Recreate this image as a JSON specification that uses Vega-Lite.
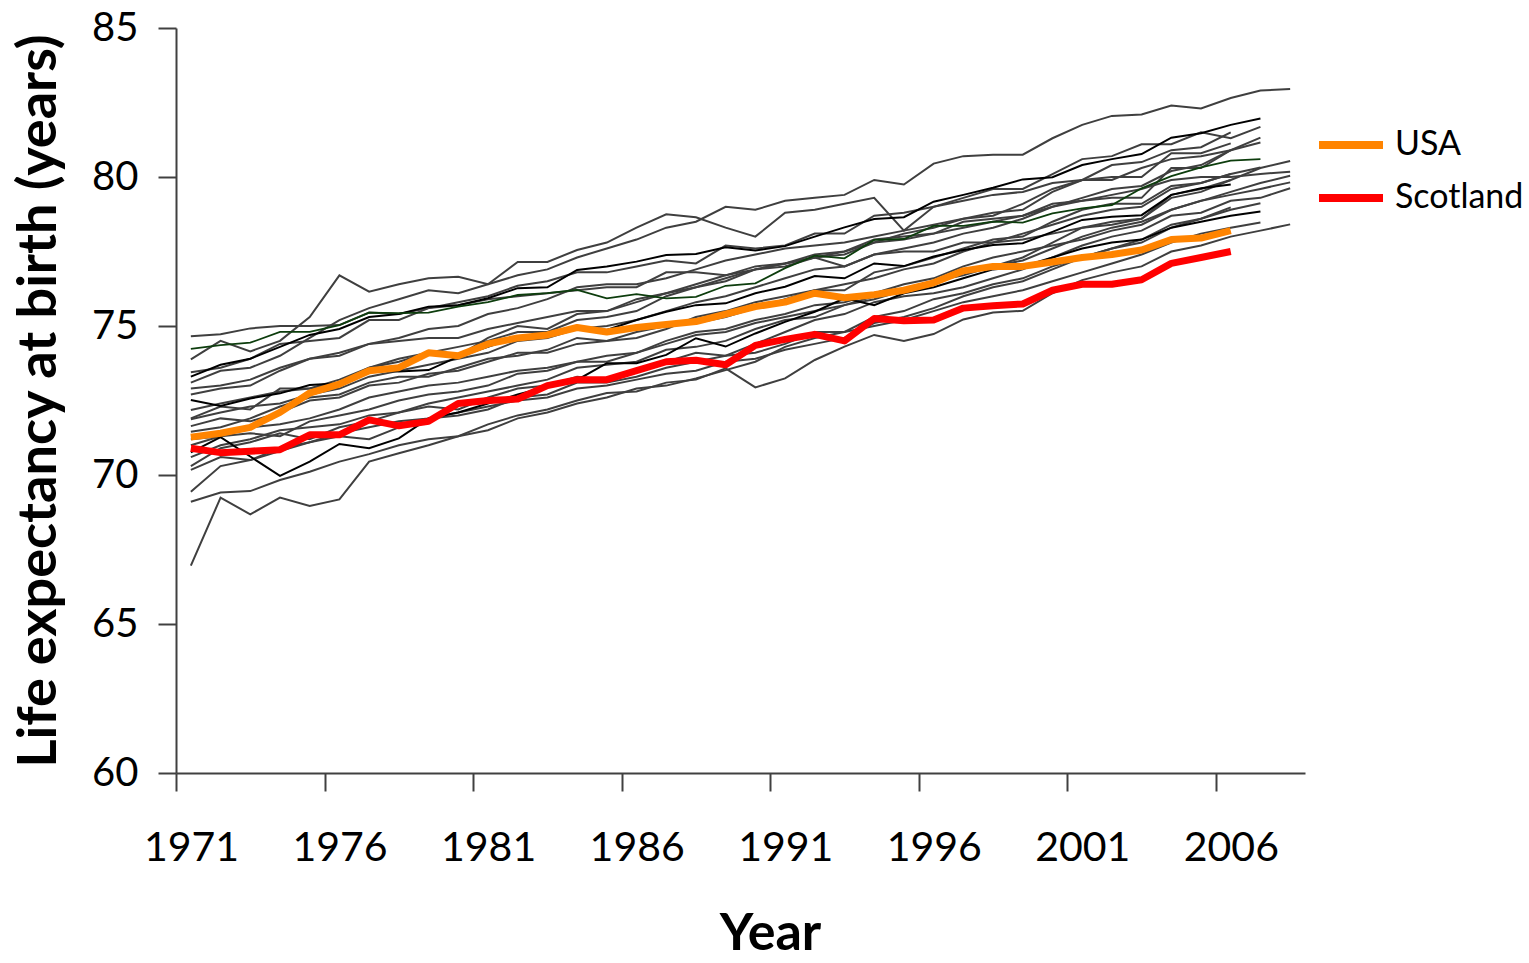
{
  "$schema": "https://vega.github.io/schema/vega-lite/v6.json",
  "width": 1129,
  "height": 745,
  "autosize": "none",
  "padding": {"left": 176, "top": 28, "right": 224, "bottom": 190},
  "background": "white",
  "data": {
    "values": [
      {"c":"c01","y":1971,"v":73.1},{"c":"c01","y":1972,"v":73.5},{"c":"c01","y":1973,"v":73.6},{"c":"c01","y":1974,"v":74.0},{"c":"c01","y":1975,"v":74.6},
      {"c":"c01","y":1976,"v":75.2},{"c":"c01","y":1977,"v":75.6},{"c":"c01","y":1978,"v":75.9},{"c":"c01","y":1979,"v":76.2},{"c":"c01","y":1980,"v":76.1},
      {"c":"c01","y":1981,"v":76.4},{"c":"c01","y":1982,"v":76.7},{"c":"c01","y":1983,"v":76.9},{"c":"c01","y":1984,"v":77.3},{"c":"c01","y":1985,"v":77.6},
      {"c":"c01","y":1986,"v":77.9},{"c":"c01","y":1987,"v":78.3},{"c":"c01","y":1988,"v":78.5},{"c":"c01","y":1989,"v":79.0},{"c":"c01","y":1990,"v":78.9},
      {"c":"c01","y":1991,"v":79.2},{"c":"c01","y":1992,"v":79.3},{"c":"c01","y":1993,"v":79.4},{"c":"c01","y":1994,"v":79.9},{"c":"c01","y":1995,"v":79.75},
      {"c":"c01","y":1996,"v":80.45},{"c":"c01","y":1997,"v":80.7},{"c":"c01","y":1998,"v":80.75},{"c":"c01","y":1999,"v":80.75},{"c":"c01","y":2000,"v":81.3},
      {"c":"c01","y":2001,"v":81.75},{"c":"c01","y":2002,"v":82.05},{"c":"c01","y":2003,"v":82.1},{"c":"c01","y":2004,"v":82.4},{"c":"c01","y":2005,"v":82.3},
      {"c":"c01","y":2006,"v":82.65},{"c":"c01","y":2007,"v":82.9},{"c":"c01","y":2008,"v":82.95},

      {"c":"c02","y":1971,"v":73.88},{"c":"c02","y":1972,"v":74.5},{"c":"c02","y":1973,"v":74.15},{"c":"c02","y":1974,"v":74.5},{"c":"c02","y":1975,"v":75.3},
      {"c":"c02","y":1976,"v":76.7},{"c":"c02","y":1977,"v":76.15},{"c":"c02","y":1978,"v":76.4},{"c":"c02","y":1979,"v":76.6},{"c":"c02","y":1980,"v":76.65},
      {"c":"c02","y":1981,"v":76.4},{"c":"c02","y":1982,"v":77.15},{"c":"c02","y":1983,"v":77.15},{"c":"c02","y":1984,"v":77.55},{"c":"c02","y":1985,"v":77.8},
      {"c":"c02","y":1986,"v":78.3},{"c":"c02","y":1987,"v":78.75},{"c":"c02","y":1988,"v":78.65},{"c":"c02","y":1989,"v":78.3},{"c":"c02","y":1990,"v":78.0},
      {"c":"c02","y":1991,"v":78.8},{"c":"c02","y":1992,"v":78.9},{"c":"c02","y":1993,"v":79.1},{"c":"c02","y":1994,"v":79.3},{"c":"c02","y":1995,"v":78.2},
      {"c":"c02","y":1996,"v":79.0},{"c":"c02","y":1997,"v":79.3},{"c":"c02","y":1998,"v":79.6},{"c":"c02","y":1999,"v":79.6},{"c":"c02","y":2000,"v":80.1},
      {"c":"c02","y":2001,"v":80.6},{"c":"c02","y":2002,"v":80.7},{"c":"c02","y":2003,"v":81.1},{"c":"c02","y":2004,"v":81.1},{"c":"c02","y":2005,"v":81.5},
      {"c":"c02","y":2006,"v":81.3},{"c":"c02","y":2007,"v":81.68},

      {"c":"c03","y":1971,"v":74.66},{"c":"c03","y":1972,"v":74.72},{"c":"c03","y":1973,"v":74.92},{"c":"c03","y":1974,"v":75.0},{"c":"c03","y":1975,"v":75.0},
      {"c":"c03","y":1976,"v":75.03},{"c":"c03","y":1977,"v":75.45},{"c":"c03","y":1978,"v":75.4},{"c":"c03","y":1979,"v":75.6},{"c":"c03","y":1980,"v":75.8},
      {"c":"c03","y":1981,"v":76.0},{"c":"c03","y":1982,"v":76.35},{"c":"c03","y":1983,"v":76.5},{"c":"c03","y":1984,"v":76.8},{"c":"c03","y":1985,"v":76.8},
      {"c":"c03","y":1986,"v":77.0},{"c":"c03","y":1987,"v":77.2},{"c":"c03","y":1988,"v":77.1},{"c":"c03","y":1989,"v":77.7},{"c":"c03","y":1990,"v":77.6},
      {"c":"c03","y":1991,"v":77.7},{"c":"c03","y":1992,"v":78.1},{"c":"c03","y":1993,"v":78.1},{"c":"c03","y":1994,"v":78.7},{"c":"c03","y":1995,"v":78.8},
      {"c":"c03","y":1996,"v":79.0},{"c":"c03","y":1997,"v":79.2},{"c":"c03","y":1998,"v":79.4},{"c":"c03","y":1999,"v":79.5},{"c":"c03","y":2000,"v":79.8},
      {"c":"c03","y":2001,"v":79.9},{"c":"c03","y":2002,"v":79.9},{"c":"c03","y":2003,"v":80.3},{"c":"c03","y":2004,"v":80.6},{"c":"c03","y":2005,"v":80.7},
      {"c":"c03","y":2006,"v":80.9},{"c":"c03","y":2007,"v":81.32},

      {"c":"c04","y":1971,"v":73.3},{"c":"c04","y":1972,"v":73.7},{"c":"c04","y":1973,"v":73.9},{"c":"c04","y":1974,"v":74.3},{"c":"c04","y":1975,"v":74.7},
      {"c":"c04","y":1976,"v":74.9},{"c":"c04","y":1977,"v":75.3},{"c":"c04","y":1978,"v":75.4},{"c":"c04","y":1979,"v":75.65},{"c":"c04","y":1980,"v":75.7},
      {"c":"c04","y":1981,"v":75.93},{"c":"c04","y":1982,"v":76.27},{"c":"c04","y":1983,"v":76.3},{"c":"c04","y":1984,"v":76.88},{"c":"c04","y":1985,"v":77.0},
      {"c":"c04","y":1986,"v":77.16},{"c":"c04","y":1987,"v":77.38},{"c":"c04","y":1988,"v":77.42},{"c":"c04","y":1989,"v":77.64},{"c":"c04","y":1990,"v":77.53},
      {"c":"c04","y":1991,"v":77.68},{"c":"c04","y":1992,"v":78.0},{"c":"c04","y":1993,"v":78.31},{"c":"c04","y":1994,"v":78.59},{"c":"c04","y":1995,"v":78.65},
      {"c":"c04","y":1996,"v":79.17},{"c":"c04","y":1997,"v":79.4},{"c":"c04","y":1998,"v":79.64},{"c":"c04","y":1999,"v":79.92},{"c":"c04","y":2000,"v":79.99},
      {"c":"c04","y":2001,"v":80.4},{"c":"c04","y":2002,"v":80.6},{"c":"c04","y":2003,"v":80.77},{"c":"c04","y":2004,"v":81.32},{"c":"c04","y":2005,"v":81.47},
      {"c":"c04","y":2006,"v":81.75},{"c":"c04","y":2007,"v":81.96},

      {"c":"c05","y":1971,"v":73.45},{"c":"c05","y":1972,"v":73.6},{"c":"c05","y":1973,"v":73.9},{"c":"c05","y":1974,"v":74.4},{"c":"c05","y":1975,"v":74.5},
      {"c":"c05","y":1976,"v":74.6},{"c":"c05","y":1977,"v":75.2},{"c":"c05","y":1978,"v":75.2},{"c":"c05","y":1979,"v":75.6},{"c":"c05","y":1980,"v":75.7},
      {"c":"c05","y":1981,"v":75.9},{"c":"c05","y":1982,"v":76.0},{"c":"c05","y":1983,"v":76.1},{"c":"c05","y":1984,"v":76.2},{"c":"c05","y":1985,"v":76.3},
      {"c":"c05","y":1986,"v":76.3},{"c":"c05","y":1987,"v":76.8},{"c":"c05","y":1988,"v":76.8},{"c":"c05","y":1989,"v":76.7},{"c":"c05","y":1990,"v":77.0},
      {"c":"c05","y":1991,"v":77.1},{"c":"c05","y":1992,"v":77.3},{"c":"c05","y":1993,"v":77.0},{"c":"c05","y":1994,"v":77.4},{"c":"c05","y":1995,"v":77.5},
      {"c":"c05","y":1996,"v":77.5},{"c":"c05","y":1997,"v":77.8},{"c":"c05","y":1998,"v":77.8},{"c":"c05","y":1999,"v":77.9},{"c":"c05","y":2000,"v":78.1},
      {"c":"c05","y":2001,"v":78.3},{"c":"c05","y":2002,"v":78.4},{"c":"c05","y":2003,"v":78.6},{"c":"c05","y":2004,"v":79.4},{"c":"c05","y":2005,"v":79.6},
      {"c":"c05","y":2006,"v":79.9},{"c":"c05","y":2007,"v":80.3},{"c":"c05","y":2008,"v":80.54},

      {"c":"c06","y":1971,"v":72.9},{"c":"c06","y":1972,"v":73.0},{"c":"c06","y":1973,"v":73.2},{"c":"c06","y":1974,"v":73.6},{"c":"c06","y":1975,"v":73.9},
      {"c":"c06","y":1976,"v":74.0},{"c":"c06","y":1977,"v":74.4},{"c":"c06","y":1978,"v":74.5},{"c":"c06","y":1979,"v":74.6},{"c":"c06","y":1980,"v":74.6},
      {"c":"c06","y":1981,"v":74.9},{"c":"c06","y":1982,"v":75.1},{"c":"c06","y":1983,"v":75.3},{"c":"c06","y":1984,"v":75.5},{"c":"c06","y":1985,"v":75.5},
      {"c":"c06","y":1986,"v":75.9},{"c":"c06","y":1987,"v":76.1},{"c":"c06","y":1988,"v":76.3},{"c":"c06","y":1989,"v":76.6},{"c":"c06","y":1990,"v":76.9},
      {"c":"c06","y":1991,"v":77.1},{"c":"c06","y":1992,"v":77.4},{"c":"c06","y":1993,"v":77.5},{"c":"c06","y":1994,"v":77.9},{"c":"c06","y":1995,"v":78.0},
      {"c":"c06","y":1996,"v":78.1},{"c":"c06","y":1997,"v":78.3},{"c":"c06","y":1998,"v":78.5},{"c":"c06","y":1999,"v":78.7},{"c":"c06","y":2000,"v":79.1},
      {"c":"c06","y":2001,"v":79.2},{"c":"c06","y":2002,"v":79.4},{"c":"c06","y":2003,"v":79.6},{"c":"c06","y":2004,"v":79.9},{"c":"c06","y":2005,"v":80.0},
      {"c":"c06","y":2006,"v":80.0},{"c":"c06","y":2007,"v":80.1},{"c":"c06","y":2008,"v":80.18},

      {"c":"c07","y":1971,"v":72.18},{"c":"c07","y":1972,"v":72.4},{"c":"c07","y":1973,"v":72.6},{"c":"c07","y":1974,"v":72.8},{"c":"c07","y":1975,"v":72.9},
      {"c":"c07","y":1976,"v":73.1},{"c":"c07","y":1977,"v":73.6},{"c":"c07","y":1978,"v":73.8},{"c":"c07","y":1979,"v":74.1},{"c":"c07","y":1980,"v":74.3},
      {"c":"c07","y":1981,"v":74.5},{"c":"c07","y":1982,"v":74.8},{"c":"c07","y":1983,"v":74.8},{"c":"c07","y":1984,"v":75.2},{"c":"c07","y":1985,"v":75.3},
      {"c":"c07","y":1986,"v":75.5},{"c":"c07","y":1987,"v":76.0},{"c":"c07","y":1988,"v":76.3},{"c":"c07","y":1989,"v":76.5},{"c":"c07","y":1990,"v":76.9},
      {"c":"c07","y":1991,"v":77.1},{"c":"c07","y":1992,"v":77.3},{"c":"c07","y":1993,"v":77.4},{"c":"c07","y":1994,"v":77.8},{"c":"c07","y":1995,"v":77.9},
      {"c":"c07","y":1996,"v":78.1},{"c":"c07","y":1997,"v":78.5},{"c":"c07","y":1998,"v":78.6},{"c":"c07","y":1999,"v":78.7},{"c":"c07","y":2000,"v":79.0},
      {"c":"c07","y":2001,"v":79.2},{"c":"c07","y":2002,"v":79.3},{"c":"c07","y":2003,"v":79.3},{"c":"c07","y":2004,"v":80.3},{"c":"c07","y":2005,"v":80.3},
      {"c":"c07","y":2006,"v":80.9},{"c":"c07","y":2007,"v":81.16},

      {"c":"c08","y":1971,"v":71.9},{"c":"c08","y":1972,"v":72.3},{"c":"c08","y":1973,"v":72.2},{"c":"c08","y":1974,"v":72.9},{"c":"c08","y":1975,"v":72.9},
      {"c":"c08","y":1976,"v":73.2},{"c":"c08","y":1977,"v":73.6},{"c":"c08","y":1978,"v":73.9},{"c":"c08","y":1979,"v":74.1},{"c":"c08","y":1980,"v":74.0},
      {"c":"c08","y":1981,"v":74.6},{"c":"c08","y":1982,"v":75.0},{"c":"c08","y":1983,"v":74.9},{"c":"c08","y":1984,"v":75.4},{"c":"c08","y":1985,"v":75.5},
      {"c":"c08","y":1986,"v":75.8},{"c":"c08","y":1987,"v":76.1},{"c":"c08","y":1988,"v":76.4},{"c":"c08","y":1989,"v":76.7},{"c":"c08","y":1990,"v":76.9},
      {"c":"c08","y":1991,"v":77.0},{"c":"c08","y":1992,"v":77.3},{"c":"c08","y":1993,"v":77.5},{"c":"c08","y":1994,"v":77.8},{"c":"c08","y":1995,"v":78.1},
      {"c":"c08","y":1996,"v":78.3},{"c":"c08","y":1997,"v":78.6},{"c":"c08","y":1998,"v":78.7},{"c":"c08","y":1999,"v":79.1},{"c":"c08","y":2000,"v":79.6},
      {"c":"c08","y":2001,"v":79.9},{"c":"c08","y":2002,"v":80.0},{"c":"c08","y":2003,"v":80.0},{"c":"c08","y":2004,"v":80.8},{"c":"c08","y":2005,"v":80.8},
      {"c":"c08","y":2006,"v":81.13},

      {"c":"c09","y":1971,"v":72.7},{"c":"c09","y":1972,"v":72.9},{"c":"c09","y":1973,"v":73.0},{"c":"c09","y":1974,"v":73.5},{"c":"c09","y":1975,"v":73.9},
      {"c":"c09","y":1976,"v":74.1},{"c":"c09","y":1977,"v":74.4},{"c":"c09","y":1978,"v":74.6},{"c":"c09","y":1979,"v":74.9},{"c":"c09","y":1980,"v":75.0},
      {"c":"c09","y":1981,"v":75.4},{"c":"c09","y":1982,"v":75.6},{"c":"c09","y":1983,"v":75.9},{"c":"c09","y":1984,"v":76.3},{"c":"c09","y":1985,"v":76.4},
      {"c":"c09","y":1986,"v":76.4},{"c":"c09","y":1987,"v":76.6},{"c":"c09","y":1988,"v":76.9},{"c":"c09","y":1989,"v":77.2},{"c":"c09","y":1990,"v":77.4},
      {"c":"c09","y":1991,"v":77.6},{"c":"c09","y":1992,"v":77.7},{"c":"c09","y":1993,"v":77.8},{"c":"c09","y":1994,"v":78.0},{"c":"c09","y":1995,"v":78.2},
      {"c":"c09","y":1996,"v":78.4},{"c":"c09","y":1997,"v":78.6},{"c":"c09","y":1998,"v":78.8},{"c":"c09","y":1999,"v":78.9},{"c":"c09","y":2000,"v":79.5},
      {"c":"c09","y":2001,"v":79.9},{"c":"c09","y":2002,"v":80.4},{"c":"c09","y":2003,"v":80.5},{"c":"c09","y":2004,"v":80.9},{"c":"c09","y":2005,"v":81.0},
      {"c":"c09","y":2006,"v":81.5},

      {"c":"c10","y":1971,"v":72.52},{"c":"c10","y":1972,"v":72.32},{"c":"c10","y":1973,"v":72.57},{"c":"c10","y":1974,"v":72.74},{"c":"c10","y":1975,"v":73.02},
      {"c":"c10","y":1976,"v":73.08},{"c":"c10","y":1977,"v":73.52},{"c":"c10","y":1978,"v":73.47},{"c":"c10","y":1979,"v":73.52},{"c":"c10","y":1980,"v":73.97},
      {"c":"c10","y":1981,"v":74.3},{"c":"c10","y":1982,"v":74.64},{"c":"c10","y":1983,"v":74.75},{"c":"c10","y":1984,"v":74.98},{"c":"c10","y":1985,"v":74.87},
      {"c":"c10","y":1986,"v":75.2},{"c":"c10","y":1987,"v":75.48},{"c":"c10","y":1988,"v":75.7},{"c":"c10","y":1989,"v":75.76},{"c":"c10","y":1990,"v":76.1},
      {"c":"c10","y":1991,"v":76.32},{"c":"c10","y":1992,"v":76.68},{"c":"c10","y":1993,"v":76.6},{"c":"c10","y":1994,"v":77.1},{"c":"c10","y":1995,"v":77.01},
      {"c":"c10","y":1996,"v":77.33},{"c":"c10","y":1997,"v":77.55},{"c":"c10","y":1998,"v":77.72},{"c":"c10","y":1999,"v":77.78},{"c":"c10","y":2000,"v":78.16},
      {"c":"c10","y":2001,"v":78.56},{"c":"c10","y":2002,"v":78.67},{"c":"c10","y":2003,"v":78.72},{"c":"c10","y":2004,"v":79.4},{"c":"c10","y":2005,"v":79.62},
      {"c":"c10","y":2006,"v":79.75},

      {"c":"c11","y":1971,"v":70.76},{"c":"c11","y":1972,"v":71.27},{"c":"c11","y":1973,"v":70.62},{"c":"c11","y":1974,"v":69.97},{"c":"c11","y":1975,"v":70.45},
      {"c":"c11","y":1976,"v":71.04},{"c":"c11","y":1977,"v":70.9},{"c":"c11","y":1978,"v":71.23},{"c":"c11","y":1979,"v":71.9},{"c":"c11","y":1980,"v":72.1},
      {"c":"c11","y":1981,"v":72.4},{"c":"c11","y":1982,"v":72.7},{"c":"c11","y":1983,"v":72.96},{"c":"c11","y":1984,"v":73.19},{"c":"c11","y":1985,"v":73.75},
      {"c":"c11","y":1986,"v":73.75},{"c":"c11","y":1987,"v":74.03},{"c":"c11","y":1988,"v":74.59},{"c":"c11","y":1989,"v":74.31},{"c":"c11","y":1990,"v":74.75},
      {"c":"c11","y":1991,"v":75.14},{"c":"c11","y":1992,"v":75.48},{"c":"c11","y":1993,"v":75.93},{"c":"c11","y":1994,"v":75.7},{"c":"c11","y":1995,"v":76.1},
      {"c":"c11","y":1996,"v":76.3},{"c":"c11","y":1997,"v":76.6},{"c":"c11","y":1998,"v":76.9},{"c":"c11","y":1999,"v":77.0},{"c":"c11","y":2000,"v":77.3},
      {"c":"c11","y":2001,"v":77.6},{"c":"c11","y":2002,"v":77.8},{"c":"c11","y":2003,"v":77.9},{"c":"c11","y":2004,"v":78.3},{"c":"c11","y":2005,"v":78.5},
      {"c":"c11","y":2006,"v":78.7},{"c":"c11","y":2007,"v":78.84},

      {"c":"c12","y":1971,"v":71.87},{"c":"c12","y":1972,"v":72.1},{"c":"c12","y":1973,"v":72.3},{"c":"c12","y":1974,"v":72.4},{"c":"c12","y":1975,"v":72.7},
      {"c":"c12","y":1976,"v":72.9},{"c":"c12","y":1977,"v":73.3},{"c":"c12","y":1978,"v":73.5},{"c":"c12","y":1979,"v":73.7},{"c":"c12","y":1980,"v":73.9},
      {"c":"c12","y":1981,"v":74.1},{"c":"c12","y":1982,"v":74.5},{"c":"c12","y":1983,"v":74.6},{"c":"c12","y":1984,"v":74.9},{"c":"c12","y":1985,"v":75.0},
      {"c":"c12","y":1986,"v":75.2},{"c":"c12","y":1987,"v":75.5},{"c":"c12","y":1988,"v":75.8},{"c":"c12","y":1989,"v":76.0},{"c":"c12","y":1990,"v":76.3},
      {"c":"c12","y":1991,"v":76.6},{"c":"c12","y":1992,"v":76.9},{"c":"c12","y":1993,"v":77.0},{"c":"c12","y":1994,"v":77.4},{"c":"c12","y":1995,"v":77.6},
      {"c":"c12","y":1996,"v":77.8},{"c":"c12","y":1997,"v":78.1},{"c":"c12","y":1998,"v":78.3},{"c":"c12","y":1999,"v":78.6},{"c":"c12","y":2000,"v":79.0},
      {"c":"c12","y":2001,"v":79.3},{"c":"c12","y":2002,"v":79.6},{"c":"c12","y":2003,"v":79.7},{"c":"c12","y":2004,"v":80.2},{"c":"c12","y":2005,"v":80.4},
      {"c":"c12","y":2006,"v":80.9},

      {"c":"c13","y":1971,"v":71.64},{"c":"c13","y":1972,"v":71.9},{"c":"c13","y":1973,"v":71.8},{"c":"c13","y":1974,"v":72.1},{"c":"c13","y":1975,"v":72.5},
      {"c":"c13","y":1976,"v":72.6},{"c":"c13","y":1977,"v":73.0},{"c":"c13","y":1978,"v":73.1},{"c":"c13","y":1979,"v":73.4},{"c":"c13","y":1980,"v":73.5},
      {"c":"c13","y":1981,"v":73.8},{"c":"c13","y":1982,"v":74.1},{"c":"c13","y":1983,"v":74.1},{"c":"c13","y":1984,"v":74.4},{"c":"c13","y":1985,"v":74.5},
      {"c":"c13","y":1986,"v":74.6},{"c":"c13","y":1987,"v":74.9},{"c":"c13","y":1988,"v":75.3},{"c":"c13","y":1989,"v":75.5},{"c":"c13","y":1990,"v":75.8},
      {"c":"c13","y":1991,"v":76.0},{"c":"c13","y":1992,"v":76.2},{"c":"c13","y":1993,"v":76.4},{"c":"c13","y":1994,"v":76.6},{"c":"c13","y":1995,"v":76.9},
      {"c":"c13","y":1996,"v":77.1},{"c":"c13","y":1997,"v":77.5},{"c":"c13","y":1998,"v":77.8},{"c":"c13","y":1999,"v":78.1},{"c":"c13","y":2000,"v":78.4},
      {"c":"c13","y":2001,"v":78.7},{"c":"c13","y":2002,"v":78.9},{"c":"c13","y":2003,"v":79.0},{"c":"c13","y":2004,"v":79.6},{"c":"c13","y":2005,"v":79.8},
      {"c":"c13","y":2006,"v":80.1},{"c":"c13","y":2007,"v":80.32},

      {"c":"c14","y":1971,"v":71.45},{"c":"c14","y":1972,"v":71.6},{"c":"c14","y":1973,"v":71.9},{"c":"c14","y":1974,"v":72.3},{"c":"c14","y":1975,"v":72.6},
      {"c":"c14","y":1976,"v":72.7},{"c":"c14","y":1977,"v":73.1},{"c":"c14","y":1978,"v":73.3},{"c":"c14","y":1979,"v":73.3},{"c":"c14","y":1980,"v":73.6},
      {"c":"c14","y":1981,"v":73.9},{"c":"c14","y":1982,"v":74.0},{"c":"c14","y":1983,"v":74.2},{"c":"c14","y":1984,"v":74.6},{"c":"c14","y":1985,"v":74.5},
      {"c":"c14","y":1986,"v":74.8},{"c":"c14","y":1987,"v":75.0},{"c":"c14","y":1988,"v":75.1},{"c":"c14","y":1989,"v":75.3},{"c":"c14","y":1990,"v":75.6},
      {"c":"c14","y":1991,"v":75.9},{"c":"c14","y":1992,"v":76.2},{"c":"c14","y":1993,"v":76.2},{"c":"c14","y":1994,"v":76.8},{"c":"c14","y":1995,"v":77.0},
      {"c":"c14","y":1996,"v":77.3},{"c":"c14","y":1997,"v":77.6},{"c":"c14","y":1998,"v":77.9},{"c":"c14","y":1999,"v":78.0},{"c":"c14","y":2000,"v":78.5},
      {"c":"c14","y":2001,"v":78.9},{"c":"c14","y":2002,"v":79.1},{"c":"c14","y":2003,"v":79.1},{"c":"c14","y":2004,"v":79.7},{"c":"c14","y":2005,"v":79.8},
      {"c":"c14","y":2006,"v":80.1},

      {"c":"c15","y":1971,"v":71.2},{"c":"c15","y":1972,"v":71.3},{"c":"c15","y":1973,"v":71.6},{"c":"c15","y":1974,"v":71.7},{"c":"c15","y":1975,"v":71.9},
      {"c":"c15","y":1976,"v":72.2},{"c":"c15","y":1977,"v":72.6},{"c":"c15","y":1978,"v":72.8},{"c":"c15","y":1979,"v":73.0},{"c":"c15","y":1980,"v":73.1},
      {"c":"c15","y":1981,"v":73.3},{"c":"c15","y":1982,"v":73.5},{"c":"c15","y":1983,"v":73.6},{"c":"c15","y":1984,"v":73.8},{"c":"c15","y":1985,"v":73.8},
      {"c":"c15","y":1986,"v":74.1},{"c":"c15","y":1987,"v":74.5},{"c":"c15","y":1988,"v":74.8},{"c":"c15","y":1989,"v":74.9},{"c":"c15","y":1990,"v":75.2},
      {"c":"c15","y":1991,"v":75.4},{"c":"c15","y":1992,"v":75.7},{"c":"c15","y":1993,"v":75.8},{"c":"c15","y":1994,"v":76.1},{"c":"c15","y":1995,"v":76.4},
      {"c":"c15","y":1996,"v":76.6},{"c":"c15","y":1997,"v":77.0},{"c":"c15","y":1998,"v":77.3},{"c":"c15","y":1999,"v":77.5},{"c":"c15","y":2000,"v":77.7},
      {"c":"c15","y":2001,"v":77.9},{"c":"c15","y":2002,"v":78.2},{"c":"c15","y":2003,"v":78.4},{"c":"c15","y":2004,"v":78.9},{"c":"c15","y":2005,"v":79.2},
      {"c":"c15","y":2006,"v":79.5},{"c":"c15","y":2007,"v":79.8},{"c":"c15","y":2008,"v":80.04},

      {"c":"c16","y":1971,"v":71.0},{"c":"c16","y":1972,"v":71.3},{"c":"c16","y":1973,"v":71.4},{"c":"c16","y":1974,"v":71.3},{"c":"c16","y":1975,"v":71.8},
      {"c":"c16","y":1976,"v":72.0},{"c":"c16","y":1977,"v":72.2},{"c":"c16","y":1978,"v":72.5},{"c":"c16","y":1979,"v":72.7},{"c":"c16","y":1980,"v":72.8},
      {"c":"c16","y":1981,"v":73.0},{"c":"c16","y":1982,"v":73.4},{"c":"c16","y":1983,"v":73.5},{"c":"c16","y":1984,"v":73.8},{"c":"c16","y":1985,"v":74.0},
      {"c":"c16","y":1986,"v":74.1},{"c":"c16","y":1987,"v":74.4},{"c":"c16","y":1988,"v":74.7},{"c":"c16","y":1989,"v":74.8},{"c":"c16","y":1990,"v":75.1},
      {"c":"c16","y":1991,"v":75.3},{"c":"c16","y":1992,"v":75.5},{"c":"c16","y":1993,"v":75.7},{"c":"c16","y":1994,"v":76.0},{"c":"c16","y":1995,"v":76.2},
      {"c":"c16","y":1996,"v":76.4},{"c":"c16","y":1997,"v":76.8},{"c":"c16","y":1998,"v":77.0},{"c":"c16","y":1999,"v":77.3},{"c":"c16","y":2000,"v":77.8},
      {"c":"c16","y":2001,"v":78.3},{"c":"c16","y":2002,"v":78.5},{"c":"c16","y":2003,"v":78.6},{"c":"c16","y":2004,"v":79.3},{"c":"c16","y":2005,"v":79.5},
      {"c":"c16","y":2006,"v":79.9},

      {"c":"c17","y":1971,"v":70.6},{"c":"c17","y":1972,"v":71.0},{"c":"c17","y":1973,"v":71.2},{"c":"c17","y":1974,"v":71.5},{"c":"c17","y":1975,"v":71.6},
      {"c":"c17","y":1976,"v":71.7},{"c":"c17","y":1977,"v":72.0},{"c":"c17","y":1978,"v":72.1},{"c":"c17","y":1979,"v":72.4},{"c":"c17","y":1980,"v":72.6},
      {"c":"c17","y":1981,"v":72.8},{"c":"c17","y":1982,"v":73.0},{"c":"c17","y":1983,"v":73.2},{"c":"c17","y":1984,"v":73.6},{"c":"c17","y":1985,"v":73.7},
      {"c":"c17","y":1986,"v":73.8},{"c":"c17","y":1987,"v":74.2},{"c":"c17","y":1988,"v":74.3},{"c":"c17","y":1989,"v":74.5},{"c":"c17","y":1990,"v":74.9},
      {"c":"c17","y":1991,"v":75.2},{"c":"c17","y":1992,"v":75.3},{"c":"c17","y":1993,"v":75.7},{"c":"c17","y":1994,"v":75.9},{"c":"c17","y":1995,"v":76.2},
      {"c":"c17","y":1996,"v":76.5},{"c":"c17","y":1997,"v":76.7},{"c":"c17","y":1998,"v":77.0},{"c":"c17","y":1999,"v":77.2},{"c":"c17","y":2000,"v":77.6},
      {"c":"c17","y":2001,"v":78.0},{"c":"c17","y":2002,"v":78.3},{"c":"c17","y":2003,"v":78.5},{"c":"c17","y":2004,"v":78.9},{"c":"c17","y":2005,"v":79.2},
      {"c":"c17","y":2006,"v":79.4},{"c":"c17","y":2007,"v":79.6},{"c":"c17","y":2008,"v":79.82},

      {"c":"c18","y":1971,"v":70.3},{"c":"c18","y":1972,"v":70.9},{"c":"c18","y":1973,"v":71.1},{"c":"c18","y":1974,"v":71.4},{"c":"c18","y":1975,"v":71.2},
      {"c":"c18","y":1976,"v":71.6},{"c":"c18","y":1977,"v":71.8},{"c":"c18","y":1978,"v":72.1},{"c":"c18","y":1979,"v":72.3},{"c":"c18","y":1980,"v":72.2},
      {"c":"c18","y":1981,"v":72.6},{"c":"c18","y":1982,"v":72.9},{"c":"c18","y":1983,"v":73.0},{"c":"c18","y":1984,"v":73.3},{"c":"c18","y":1985,"v":73.2},
      {"c":"c18","y":1986,"v":73.5},{"c":"c18","y":1987,"v":73.8},{"c":"c18","y":1988,"v":74.1},{"c":"c18","y":1989,"v":74.0},{"c":"c18","y":1990,"v":74.4},
      {"c":"c18","y":1991,"v":74.8},{"c":"c18","y":1992,"v":75.2},{"c":"c18","y":1993,"v":75.4},{"c":"c18","y":1994,"v":75.8},{"c":"c18","y":1995,"v":76.0},
      {"c":"c18","y":1996,"v":76.1},{"c":"c18","y":1997,"v":76.3},{"c":"c18","y":1998,"v":76.6},{"c":"c18","y":1999,"v":76.9},{"c":"c18","y":2000,"v":77.3},
      {"c":"c18","y":2001,"v":77.7},{"c":"c18","y":2002,"v":78.0},{"c":"c18","y":2003,"v":78.2},{"c":"c18","y":2004,"v":78.7},{"c":"c18","y":2005,"v":78.8},
      {"c":"c18","y":2006,"v":79.2},{"c":"c18","y":2007,"v":79.3},{"c":"c18","y":2008,"v":79.62},

      {"c":"c19","y":1971,"v":70.17},{"c":"c19","y":1972,"v":70.6},{"c":"c19","y":1973,"v":70.5},{"c":"c19","y":1974,"v":70.8},{"c":"c19","y":1975,"v":71.1},
      {"c":"c19","y":1976,"v":71.3},{"c":"c19","y":1977,"v":71.2},{"c":"c19","y":1978,"v":71.6},{"c":"c19","y":1979,"v":71.9},{"c":"c19","y":1980,"v":72.0},
      {"c":"c19","y":1981,"v":72.2},{"c":"c19","y":1982,"v":72.6},{"c":"c19","y":1983,"v":72.7},{"c":"c19","y":1984,"v":73.1},{"c":"c19","y":1985,"v":73.1},
      {"c":"c19","y":1986,"v":73.3},{"c":"c19","y":1987,"v":73.6},{"c":"c19","y":1988,"v":73.8},{"c":"c19","y":1989,"v":74.0},{"c":"c19","y":1990,"v":74.1},
      {"c":"c19","y":1991,"v":74.4},{"c":"c19","y":1992,"v":74.8},{"c":"c19","y":1993,"v":74.8},{"c":"c19","y":1994,"v":75.3},{"c":"c19","y":1995,"v":75.5},
      {"c":"c19","y":1996,"v":75.9},{"c":"c19","y":1997,"v":76.1},{"c":"c19","y":1998,"v":76.4},{"c":"c19","y":1999,"v":76.6},{"c":"c19","y":2000,"v":77.0},
      {"c":"c19","y":2001,"v":77.3},{"c":"c19","y":2002,"v":77.6},{"c":"c19","y":2003,"v":77.8},{"c":"c19","y":2004,"v":78.3},{"c":"c19","y":2005,"v":78.6},
      {"c":"c19","y":2006,"v":78.9},{"c":"c19","y":2007,"v":79.12},

      {"c":"c20","y":1971,"v":69.44},{"c":"c20","y":1972,"v":70.3},{"c":"c20","y":1973,"v":70.5},{"c":"c20","y":1974,"v":70.9},{"c":"c20","y":1975,"v":71.1},
      {"c":"c20","y":1976,"v":71.4},{"c":"c20","y":1977,"v":71.6},{"c":"c20","y":1978,"v":71.8},{"c":"c20","y":1979,"v":71.9},{"c":"c20","y":1980,"v":72.1},
      {"c":"c20","y":1981,"v":72.3},{"c":"c20","y":1982,"v":72.5},{"c":"c20","y":1983,"v":72.6},{"c":"c20","y":1984,"v":72.9},{"c":"c20","y":1985,"v":73.0},
      {"c":"c20","y":1986,"v":73.2},{"c":"c20","y":1987,"v":73.4},{"c":"c20","y":1988,"v":73.5},{"c":"c20","y":1989,"v":73.8},{"c":"c20","y":1990,"v":73.9},
      {"c":"c20","y":1991,"v":74.2},{"c":"c20","y":1992,"v":74.4},{"c":"c20","y":1993,"v":74.6},{"c":"c20","y":1994,"v":75.1},{"c":"c20","y":1995,"v":75.3},
      {"c":"c20","y":1996,"v":75.6},{"c":"c20","y":1997,"v":76.0},{"c":"c20","y":1998,"v":76.3},{"c":"c20","y":1999,"v":76.5},{"c":"c20","y":2000,"v":76.9},
      {"c":"c20","y":2001,"v":77.3},{"c":"c20","y":2002,"v":77.6},{"c":"c20","y":2003,"v":77.9},{"c":"c20","y":2004,"v":78.4},{"c":"c20","y":2005,"v":78.6},
      {"c":"c20","y":2006,"v":78.98},

      {"c":"c21","y":1971,"v":69.1},{"c":"c21","y":1972,"v":69.41},{"c":"c21","y":1973,"v":69.46},{"c":"c21","y":1974,"v":69.83},{"c":"c21","y":1975,"v":70.11},
      {"c":"c21","y":1976,"v":70.45},{"c":"c21","y":1977,"v":70.7},{"c":"c21","y":1978,"v":71.0},{"c":"c21","y":1979,"v":71.2},{"c":"c21","y":1980,"v":71.3},
      {"c":"c21","y":1981,"v":71.5},{"c":"c21","y":1982,"v":71.9},{"c":"c21","y":1983,"v":72.1},{"c":"c21","y":1984,"v":72.4},{"c":"c21","y":1985,"v":72.6},
      {"c":"c21","y":1986,"v":72.9},{"c":"c21","y":1987,"v":73.0},{"c":"c21","y":1988,"v":73.24},{"c":"c21","y":1989,"v":73.52},{"c":"c21","y":1990,"v":73.8},
      {"c":"c21","y":1991,"v":74.3},{"c":"c21","y":1992,"v":74.6},{"c":"c21","y":1993,"v":74.8},{"c":"c21","y":1994,"v":75.0},{"c":"c21","y":1995,"v":75.2},
      {"c":"c21","y":1996,"v":75.5},{"c":"c21","y":1997,"v":75.8},{"c":"c21","y":1998,"v":76.0},{"c":"c21","y":1999,"v":76.2},{"c":"c21","y":2000,"v":76.5},
      {"c":"c21","y":2001,"v":76.8},{"c":"c21","y":2002,"v":77.1},{"c":"c21","y":2003,"v":77.4},{"c":"c21","y":2004,"v":77.8},{"c":"c21","y":2005,"v":78.1},
      {"c":"c21","y":2006,"v":78.3},{"c":"c21","y":2007,"v":78.47},

      {"c":"c22","y":1971,"v":66.96},{"c":"c22","y":1972,"v":69.24},{"c":"c22","y":1973,"v":68.68},{"c":"c22","y":1974,"v":69.24},{"c":"c22","y":1975,"v":68.96},
      {"c":"c22","y":1976,"v":69.18},{"c":"c22","y":1977,"v":70.45},{"c":"c22","y":1978,"v":70.73},{"c":"c22","y":1979,"v":71.0},{"c":"c22","y":1980,"v":71.3},
      {"c":"c22","y":1981,"v":71.7},{"c":"c22","y":1982,"v":72.0},{"c":"c22","y":1983,"v":72.2},{"c":"c22","y":1984,"v":72.5},{"c":"c22","y":1985,"v":72.75},
      {"c":"c22","y":1986,"v":72.8},{"c":"c22","y":1987,"v":73.1},{"c":"c22","y":1988,"v":73.2},{"c":"c22","y":1989,"v":73.58},{"c":"c22","y":1990,"v":72.94},
      {"c":"c22","y":1991,"v":73.24},{"c":"c22","y":1992,"v":73.86},{"c":"c22","y":1993,"v":74.31},{"c":"c22","y":1994,"v":74.7},{"c":"c22","y":1995,"v":74.5},
      {"c":"c22","y":1996,"v":74.73},{"c":"c22","y":1997,"v":75.22},{"c":"c22","y":1998,"v":75.45},{"c":"c22","y":1999,"v":75.51},{"c":"c22","y":2000,"v":76.1},
      {"c":"c22","y":2001,"v":76.54},{"c":"c22","y":2002,"v":76.8},{"c":"c22","y":2003,"v":77.0},{"c":"c22","y":2004,"v":77.5},{"c":"c22","y":2005,"v":77.7},
      {"c":"c22","y":2006,"v":78.0},{"c":"c22","y":2007,"v":78.2},{"c":"c22","y":2008,"v":78.41},

      {"c":"green","y":1971,"v":74.23},{"c":"green","y":1972,"v":74.36},{"c":"green","y":1973,"v":74.44},{"c":"green","y":1974,"v":74.8},{"c":"green","y":1975,"v":74.8},
      {"c":"green","y":1976,"v":75.03},{"c":"green","y":1977,"v":75.45},{"c":"green","y":1978,"v":75.43},{"c":"green","y":1979,"v":75.45},{"c":"green","y":1980,"v":75.65},
      {"c":"green","y":1981,"v":75.8},{"c":"green","y":1982,"v":76.04},{"c":"green","y":1983,"v":76.1},{"c":"green","y":1984,"v":76.21},{"c":"green","y":1985,"v":75.93},
      {"c":"green","y":1986,"v":76.07},{"c":"green","y":1987,"v":75.93},{"c":"green","y":1988,"v":75.98},{"c":"green","y":1989,"v":76.35},{"c":"green","y":1990,"v":76.43},
      {"c":"green","y":1991,"v":76.94},{"c":"green","y":1992,"v":77.36},{"c":"green","y":1993,"v":77.27},{"c":"green","y":1994,"v":77.89},{"c":"green","y":1995,"v":77.92},
      {"c":"green","y":1996,"v":78.36},{"c":"green","y":1997,"v":78.36},{"c":"green","y":1998,"v":78.5},{"c":"green","y":1999,"v":78.47},{"c":"green","y":2000,"v":78.78},
      {"c":"green","y":2001,"v":78.95},{"c":"green","y":2002,"v":79.06},{"c":"green","y":2003,"v":79.62},{"c":"green","y":2004,"v":80.03},{"c":"green","y":2005,"v":80.32},
      {"c":"green","y":2006,"v":80.55},{"c":"green","y":2007,"v":80.6},

      {"c":"USA","y":1971,"v":71.27},{"c":"USA","y":1972,"v":71.4},{"c":"USA","y":1973,"v":71.6},{"c":"USA","y":1974,"v":72.1},{"c":"USA","y":1975,"v":72.75},
      {"c":"USA","y":1976,"v":73.05},{"c":"USA","y":1977,"v":73.5},{"c":"USA","y":1978,"v":73.6},{"c":"USA","y":1979,"v":74.1},{"c":"USA","y":1980,"v":74.0},
      {"c":"USA","y":1981,"v":74.4},{"c":"USA","y":1982,"v":74.6},{"c":"USA","y":1983,"v":74.7},{"c":"USA","y":1984,"v":74.95},{"c":"USA","y":1985,"v":74.8},
      {"c":"USA","y":1986,"v":74.95},{"c":"USA","y":1987,"v":75.05},{"c":"USA","y":1988,"v":75.15},{"c":"USA","y":1989,"v":75.4},{"c":"USA","y":1990,"v":75.65},
      {"c":"USA","y":1991,"v":75.8},{"c":"USA","y":1992,"v":76.1},{"c":"USA","y":1993,"v":75.95},{"c":"USA","y":1994,"v":76.05},{"c":"USA","y":1995,"v":76.2},
      {"c":"USA","y":1996,"v":76.45},{"c":"USA","y":1997,"v":76.85},{"c":"USA","y":1998,"v":77.0},{"c":"USA","y":1999,"v":77.0},{"c":"USA","y":2000,"v":77.15},
      {"c":"USA","y":2001,"v":77.3},{"c":"USA","y":2002,"v":77.4},{"c":"USA","y":2003,"v":77.55},{"c":"USA","y":2004,"v":77.9},{"c":"USA","y":2005,"v":77.95},
      {"c":"USA","y":2006,"v":78.2},

      {"c":"Scotland","y":1971,"v":70.9},{"c":"Scotland","y":1972,"v":70.75},{"c":"Scotland","y":1973,"v":70.8},{"c":"Scotland","y":1974,"v":70.85},{"c":"Scotland","y":1975,"v":71.35},
      {"c":"Scotland","y":1976,"v":71.35},{"c":"Scotland","y":1977,"v":71.85},{"c":"Scotland","y":1978,"v":71.65},{"c":"Scotland","y":1979,"v":71.8},{"c":"Scotland","y":1980,"v":72.4},
      {"c":"Scotland","y":1981,"v":72.5},{"c":"Scotland","y":1982,"v":72.55},{"c":"Scotland","y":1983,"v":73.0},{"c":"Scotland","y":1984,"v":73.2},{"c":"Scotland","y":1985,"v":73.2},
      {"c":"Scotland","y":1986,"v":73.5},{"c":"Scotland","y":1987,"v":73.8},{"c":"Scotland","y":1988,"v":73.85},{"c":"Scotland","y":1989,"v":73.7},{"c":"Scotland","y":1990,"v":74.35},
      {"c":"Scotland","y":1991,"v":74.55},{"c":"Scotland","y":1992,"v":74.72},{"c":"Scotland","y":1993,"v":74.5},{"c":"Scotland","y":1994,"v":75.25},{"c":"Scotland","y":1995,"v":75.18},
      {"c":"Scotland","y":1996,"v":75.2},{"c":"Scotland","y":1997,"v":75.6},{"c":"Scotland","y":1998,"v":75.68},{"c":"Scotland","y":1999,"v":75.74},{"c":"Scotland","y":2000,"v":76.2},
      {"c":"Scotland","y":2001,"v":76.4},{"c":"Scotland","y":2002,"v":76.4},{"c":"Scotland","y":2003,"v":76.55},{"c":"Scotland","y":2004,"v":77.1},{"c":"Scotland","y":2005,"v":77.3},
      {"c":"Scotland","y":2006,"v":77.5}
    ]
  },
  "encoding": {
    "x": {
      "field": "y",
      "type": "quantitative",
      "scale": {"domain": [1970.5, 2008.5], "nice": false, "zero": false},
      "axis": {
        "title": "Year",
        "values": [1970.5, 1975.5, 1980.5, 1985.5, 1990.5, 1995.5, 2000.5, 2005.5],
        "labelExpr": "format(datum.value + 0.5, 'd')",
        "labelOffset": 15,
        "labelPadding": 37,
        "labelFontSize": 41,
        "labelFlush": false,
        "labelOverlap": false,
        "labelBound": false,
        "titleFontSize": 52,
        "titlePadding": 40,
        "titleX": 594
      }
    },
    "y": {
      "field": "v",
      "type": "quantitative",
      "scale": {"domain": [60, 85], "nice": false, "zero": false},
      "axis": {
        "title": "Life expectancy at birth (years)",
        "values": [60, 65, 70, 75, 80, 85],
        "labelPadding": 20,
        "labelFontSize": 40,
        "titleFontSize": 54,
        "titlePadding": 25
      }
    }
  },
  "layer": [
    {
      "transform": [{"filter": {"not": {"field": "c", "oneOf": ["USA", "Scotland", "green", "c04", "c10", "c11"]}}}],
      "mark": {"type": "line", "stroke": "#3f3f3f", "strokeWidth": 2},
      "encoding": {"detail": {"field": "c", "type": "nominal"}}
    },
    {
      "transform": [{"filter": {"field": "c", "oneOf": ["c04", "c10", "c11"]}}],
      "mark": {"type": "line", "stroke": "#000000", "strokeWidth": 2},
      "encoding": {"detail": {"field": "c", "type": "nominal"}}
    },
    {
      "transform": [{"filter": {"field": "c", "equal": "green"}}],
      "mark": {"type": "line", "stroke": "#0d3d0d", "strokeWidth": 1.8},
      "encoding": {"detail": {"field": "c", "type": "nominal"}}
    },
    {
      "transform": [{"filter": {"field": "c", "oneOf": ["USA", "Scotland"]}}],
      "mark": {"type": "line", "strokeWidth": 7, "strokeJoin": "round"},
      "encoding": {
        "color": {
          "field": "c",
          "type": "nominal",
          "scale": {"domain": ["USA", "Scotland"], "range": ["#ff8400", "#ff0000"]},
          "legend": {
            "title": null,
            "orient": "none",
            "legendX": 1139,
            "legendY": 81,
            "symbolType": "stroke",
            "symbolSize": 4096,
            "symbolStrokeWidth": 8,
            "labelFont": "Lato",
            "labelFontSize": 34,
            "labelColor": "#000000",
            "labelOffset": 8,
            "rowPadding": -12,
            "padding": 0
          }
        }
      }
    }
  ],
  "config": {
    "view": {"stroke": null},
    "axis": {
      "grid": false,
      "domainColor": "#404040",
      "domainWidth": 2,
      "tickColor": "#404040",
      "tickWidth": 2,
      "tickSize": 18,
      "labelFont": "Lato",
      "labelColor": "#000000",
      "titleColor": "#000000",
      "titleFont": "Lato",
      "titleFontWeight": "bold"
    }
  }
}
